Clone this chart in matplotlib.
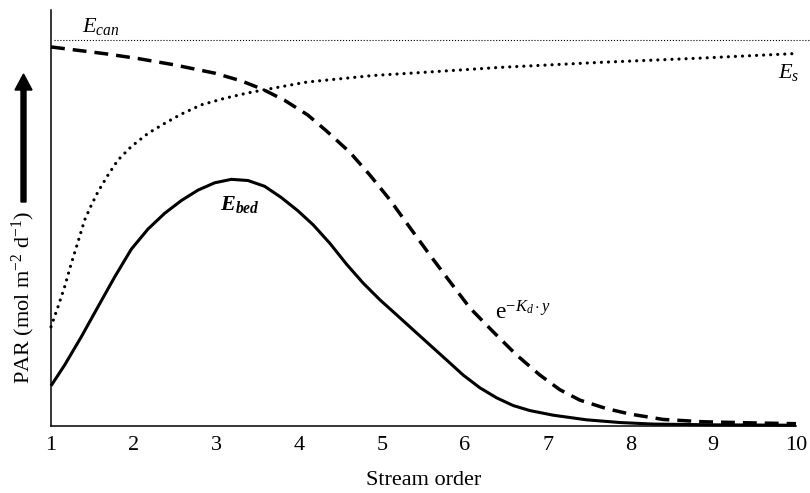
import matplotlib
matplotlib.use("Agg")
import matplotlib.pyplot as plt
from matplotlib.patches import FancyArrow
from matplotlib.transforms import IdentityTransform

plt.rcParams['font.family'] = ['Liberation Serif', 'DejaVu Serif']
plt.rcParams['mathtext.fontset'] = 'custom'
plt.rcParams['mathtext.rm'] = 'Liberation Serif'
plt.rcParams['mathtext.it'] = 'Liberation Serif:italic'
plt.rcParams['mathtext.bf'] = 'Liberation Serif:bold:italic'

# ---- data ----
stream_order_ticks = [1, 2, 3, 4, 5, 6, 7, 8, 9, 10]

ecan_level = 1.0

es_x = [1.0, 1.085, 1.165, 1.245, 1.326, 1.407, 1.487, 1.568, 1.688, 1.809, 1.97, 2.171, 2.373, 2.574,
        2.815, 3.098, 3.379, 3.781, 4.09, 4.89, 5.42, 6.42, 7.63, 8.84, 10.0]
es_v = [0.257, 0.309, 0.361, 0.421, 0.477, 0.534, 0.572, 0.607, 0.650, 0.689, 0.724, 0.758, 0.784, 0.808,
        0.832, 0.849, 0.863, 0.879, 0.891, 0.908, 0.915, 0.929, 0.942, 0.953, 0.965]

att_x = [1.0, 1.67, 2.05, 2.48, 2.98, 3.3, 3.56, 3.82, 4.1, 4.33, 4.611, 4.853, 5.094, 5.336, 5.577, 5.819,
         6.06, 6.342, 6.624, 6.906, 7.147, 7.389, 7.711, 7.993, 8.395, 8.874, 9.478, 10.0]
att_v = [0.982, 0.964, 0.952, 0.936, 0.914, 0.894, 0.872, 0.844, 0.806, 0.764, 0.709, 0.650, 0.586, 0.514, 0.443, 0.374,
         0.306, 0.244, 0.184, 0.132, 0.094, 0.067, 0.045, 0.031, 0.017, 0.011, 0.008, 0.006]

bed_x = [1.0, 1.165, 1.366, 1.568, 1.769, 1.97, 2.171, 2.373, 2.574, 2.775, 2.977, 3.178, 3.379, 3.581, 3.781,
         3.98, 4.168, 4.37, 4.571, 4.772, 4.973, 5.175, 5.376, 5.577, 5.779, 5.979, 6.181, 6.383, 6.583, 6.785,
         7.066, 7.47, 7.872, 8.27, 9.0, 10.0]
bed_v = [0.104, 0.158, 0.231, 0.309, 0.386, 0.458, 0.510, 0.551, 0.584, 0.611, 0.630, 0.639, 0.636, 0.621, 0.592,
         0.558, 0.521, 0.473, 0.419, 0.370, 0.327, 0.288, 0.249, 0.210, 0.171, 0.132, 0.099, 0.073, 0.053, 0.040,
         0.028, 0.016, 0.009, 0.005, 0.003, 0.002]

# ---- figure ----
fig = plt.figure(figsize=(8.1, 4.93), dpi=100)
ax = fig.add_axes([51/810, 67/493, 745/810, 416/493])

ax.plot(bed_x, bed_v, color='black', lw=2.2, solid_capstyle='butt', solid_joinstyle='round', clip_on=False)
ax.plot(att_x, att_v, color='black', lw=2.5, linestyle=(0, (4, 2.3)), dash_capstyle='butt', clip_on=False)
ax.plot(es_x, es_v, color='black', lw=2.3, linestyle=(0, (0.01, 2.2)), dash_capstyle='round', clip_on=False)
ax.axhline(ecan_level, xmin=0.004, xmax=1.019, color='black', lw=0.8, linestyle=':', clip_on=False)

ax.set_xlim(1, 10)
ax.set_ylim(0, 416/386)
ax.set_xticks(stream_order_ticks)
ax.set_xticklabels([str(t) for t in stream_order_ticks])
ax.set_yticks([])
ax.tick_params(axis='x', length=0, pad=7, labelsize=16)
for s in ['top', 'right']:
    ax.spines[s].set_visible(False)
for s in ['left', 'bottom']:
    ax.spines[s].set_linewidth(1.1)

ax.set_xlabel('Stream order', fontsize=16, labelpad=12)

fig.text(23/810, 1 - 297/493, r'PAR (mol m$^{-2}$ d$^{-1}$)', rotation=90,
         ha='center', va='center', fontsize=16)

fig.add_artist(FancyArrow(23.5, 493 - 202, 0, 128, width=5, head_width=17, head_length=16,
                          length_includes_head=True, color='black', transform=IdentityTransform()))

ax.text(1.37, 1.021, r'$E_{can}$', fontsize=16, ha='left', va='baseline')
ax.text(9.78, 0.902, r'$E_{s}$', fontsize=16, ha='left', va='baseline')
ax.text(3.04, 0.56, r'$\mathbf{E}_{\mathbf{bed}}$', fontsize=16, ha='left', va='baseline')
ax.text(6.36, 0.275, r'$\mathrm{e}^{\mathrm{-}K_{d}\cdot y}$', fontsize=17, ha='left', va='baseline')

fig.savefig('out.png', dpi=100)
